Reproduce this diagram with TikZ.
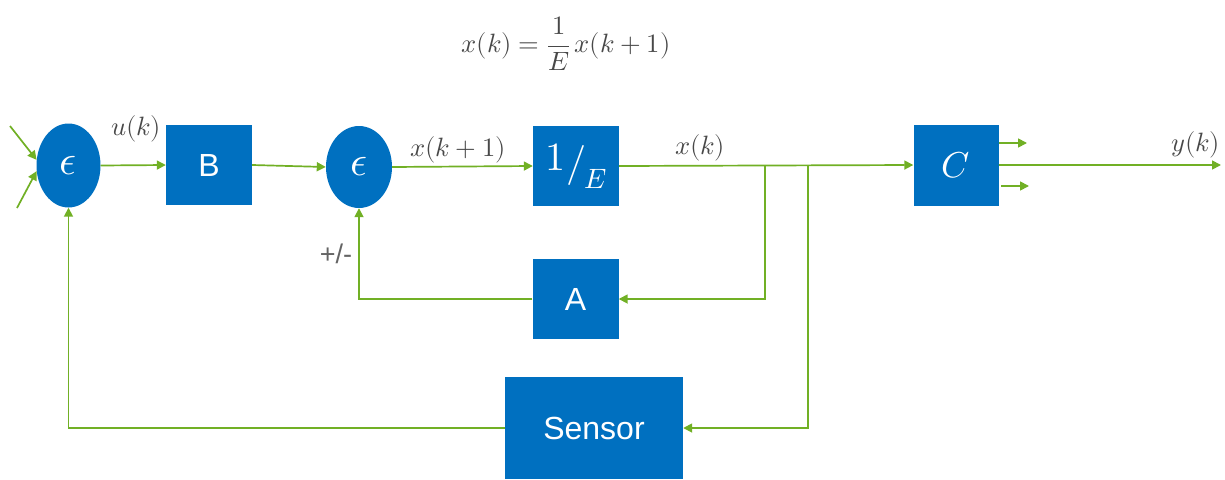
\documentclass[tikz,border=0pt]{standalone}
\usepackage{fontspec}
\usepackage{unicode-math}
\setmathfont{Latin Modern Math}
\setsansfont{Liberation Sans}
\usetikzlibrary{shapes.geometric,arrows.meta}
\definecolor{boxblue}{RGB}{0,112,192}
\definecolor{wire}{RGB}{113,176,37}
\definecolor{labelgray}{RGB}{72,72,72}
\definecolor{signgray}{RGB}{100,100,100}
\begin{document}
\begin{tikzpicture}[x=1pt,y=-1pt,
  blk/.style={rectangle, fill=boxblue, draw=none, inner sep=0pt, text=white,
    font=\sffamily\fontsize{32}{36}\selectfont},
  sumnode/.style={ellipse, fill=boxblue, draw=none, inner sep=0pt, text=white,
    font=\fontsize{42}{46}\selectfont},
  arr/.style={draw=wire, line width=1.7pt, -{Triangle[length=9pt,width=9pt]}},
  lbl/.style={text=labelgray, inner sep=0pt, font=\fontsize{26.5}{30}\selectfont},
]
\useasboundingbox (0,0) rectangle (1225,479);

% equation
\node[lbl] (eq) at (566,44) {$\displaystyle x(k)=\frac{1}{E}\,x(k+1)$};

% summing junctions
\node[sumnode, minimum width=64pt, minimum height=84pt] (e1) at (68.5,165.5) {$\epsilon$};
\node[sumnode, minimum width=66pt, minimum height=82pt] (e2) at (359,167) {$\epsilon$};

% blocks
\node[blk, minimum width=86pt, minimum height=80pt] (B) at (209,165) {B};
\node[blk, minimum width=86pt, minimum height=80pt] (invE) at (576,166)
  {\fontsize{40}{44}\selectfont\raisebox{5pt}{$1$}$\kern1pt/\kern-2pt$\raisebox{-13pt}{\fontsize{28}{30}\selectfont$E$}};
\node[blk, minimum width=85pt, minimum height=81pt] (C) at (956,165)
  {\fontsize{36}{40}\selectfont$C$};
\node[blk, minimum width=86pt, minimum height=80pt] (A) at (575.5,299) {A};
\node[blk, minimum width=178pt, minimum height=102pt] (S) at (594,428) {Sensor};

% free ends and branch points
\coordinate (in1) at (10,126);
\coordinate (in2) at (17,208);
\coordinate (j1) at (765,166);
\coordinate (j2) at (808,165.5);
\coordinate (yout) at (1221,165);
\coordinate (c1s) at (999,143);
\coordinate (c1e) at (1027,143);
\coordinate (c2s) at (1001,186);
\coordinate (c2e) at (1029,186);

% forward path
\draw[arr] (in1) -- (e1.170);
\draw[arr] (in2) -- (e1.190);
\draw[arr] (e1.east) -- (B.west);
\draw[arr] (B.east) -- (e2.west);
\draw[arr] (e2.east) -- (invE.west);
\draw[arr] (invE.east) -- (C.west);
\draw[arr] (C.east) -- (yout);
\draw[arr] (c1s) -- (c1e);
\draw[arr] (c2s) -- (c2e);

% feedback paths
\draw[arr] (j1) |- (A.east);
\draw[arr] (A.west) -| (e2.south);
\draw[arr] (j2) |- (S.east);
\draw[arr] (S.west) -| (e1.south);

% signal labels
\node[lbl] (uk) at (136,129) {$u(k)$};
\node[lbl] (xk1) at (458,150) {$x(k+1)$};
\node[lbl] (xk) at (700,148) {$x(k)$};
\node[lbl] (yk) at (1196,145) {$y(k)$};
\node[text=signgray, inner sep=0pt, font=\sffamily\fontsize{27}{32}\selectfont] (pm) at (336,254) {+/-};
\end{tikzpicture}
\end{document}
